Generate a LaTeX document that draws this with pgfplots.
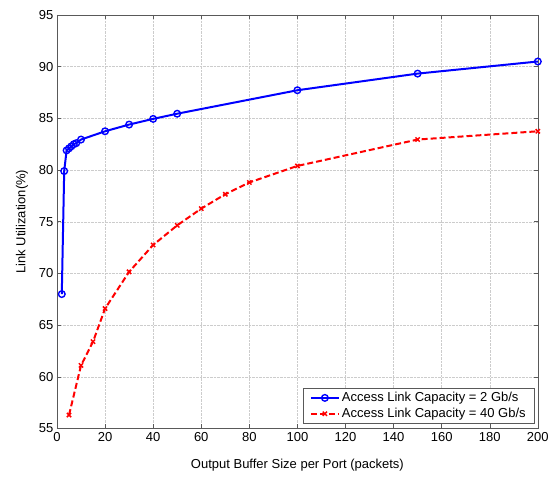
\documentclass[border=0pt]{standalone}
\usepackage{fontspec}
\setmainfont{Liberation Sans}
\usepackage{pgfplots}
\pgfplotsset{compat=1.18}
\begin{document}
\begin{tikzpicture}
\begin{axis}[
  scale only axis,
  width=481pt, height=413.6pt,
  xmin=0, xmax=200, ymin=55, ymax=95,
  xtick={0,20,...,200}, ytick={55,60,...,95},
  tick align=inside,
  tick pos=both,
  major tick length=4pt,
  grid=major,
  grid style={densely dotted, gray!40, line width=0.4pt},
  axis line style={gray!70!black, line width=0.6pt},
  tick style={gray!70!black, line width=0.5pt},
  font=\fontsize{13}{15}\selectfont,
  /pgf/number format/assume math mode=true,
  ticklabel style={font=\fontsize{13}{15}\selectfont},
  xlabel={Output Buffer Size per Port (packets)},
  ylabel={Link Utilization(\%)},
  xlabel style={yshift=-11pt},
  ylabel style={yshift=4pt},
  legend style={at={(0.994,0.012)}, anchor=south east, draw=gray!70!black, line width=0.5pt,
    font=\fontsize{13}{14}\selectfont, row sep=1pt, inner ysep=2pt, inner xsep=7pt},
  legend image code/.code={\draw[mark repeat=2,mark phase=2] plot coordinates {(0pt,0pt)(14pt,0pt)(28pt,0pt)};},
  legend cell align=left,
]
\addplot[blue, line width=2pt, mark=o, mark size=3.3pt, mark options={solid, line width=1.4pt}] coordinates {
  (2,68.0) (3,79.9) (4,81.9) (5,82.1) (6,82.3) (7,82.5) (8,82.6) (10,82.95) (20,83.75) (30,84.4) (40,84.95) (50,85.45) (100,87.72) (150,89.33) (200,90.5)
};
\addlegendentry{Access Link Capacity = 2 Gb/s}
\addplot[red, line width=2pt, dashed, dash pattern=on 6pt off 3pt, mark=x, mark size=3pt, mark options={solid, line width=1.5pt}] coordinates {
  (5,56.3) (10,61.1) (15,63.4) (20,66.6) (30,70.15) (40,72.75) (50,74.65) (60,76.27) (70,77.66) (80,78.8) (100,80.4) (150,82.95) (200,83.75)
};
\addlegendentry{Access Link Capacity = 40 Gb/s}
\end{axis}
\path ([xshift=-57pt,yshift=-48pt]current axis.south west) rectangle ([xshift=14pt,yshift=15pt]current axis.north east);
\end{tikzpicture}
\end{document}
